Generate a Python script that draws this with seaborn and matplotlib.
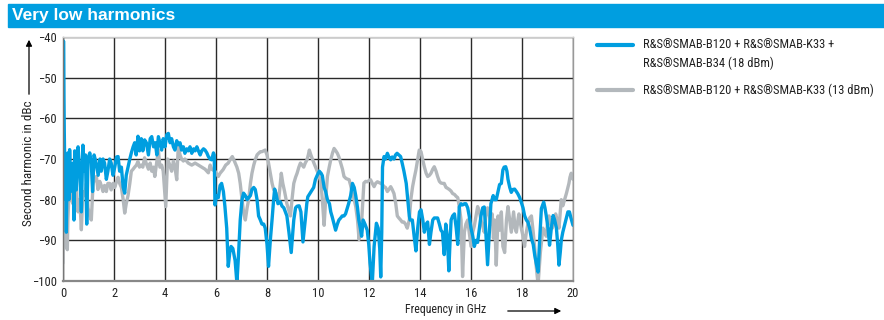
import matplotlib
matplotlib.use("Agg")
import numpy as np
import pandas as pd
import seaborn as sns
import matplotlib.pyplot as plt
from matplotlib.lines import Line2D
from matplotlib.patches import Rectangle

# ---------------- data ----------------
title = "Very low harmonics"
x_label = "Frequency in GHz"
y_label = "Second harmonic in dBc"
label_blue_1 = "R&S®SMAB-B120 + R&S®SMAB-K33 +"
label_blue_2 = "R&S®SMAB-B34 (18 dBm)"
label_gray = "R&S®SMAB-B120 + R&S®SMAB-K33 (13 dBm)"
x_ticks = [0, 2, 4, 6, 8, 10, 12, 14, 16, 18, 20]
y_ticks = [-100, -90, -80, -70, -60, -50, -40]

blue_f = [0.00, 0.02, 0.05, 0.08, 0.10, 0.13, 0.16, 0.19, 0.23, 0.26, 0.30, 0.33, 0.37, 0.40, 0.43,
          0.46, 0.52, 0.56, 0.59, 0.65, 0.72, 0.78, 0.83, 0.88, 0.93, 0.98, 1.05, 1.11, 1.16, 1.22,
          1.30, 1.38, 1.45, 1.50, 1.57, 1.63, 1.70, 1.76, 1.83, 1.89, 1.96, 2.03, 2.10, 2.16, 2.22,
          2.29, 2.36, 2.42, 2.48, 2.55, 2.62, 2.68, 2.75, 2.81, 2.87, 2.94, 3.00, 3.07, 3.13, 3.20,
          3.27, 3.35, 3.42, 3.48, 3.55, 3.62, 3.68, 3.74, 3.80, 3.87, 3.93, 4.00, 4.07, 4.13, 4.20,
          4.26, 4.33, 4.39, 4.46, 4.52, 4.59, 4.65, 4.72, 4.78, 4.85, 4.91, 4.98, 5.05, 5.12, 5.18,
          5.25, 5.31, 5.38, 5.44, 5.51, 5.57, 5.64, 5.70, 5.77, 5.83, 5.90, 5.93, 5.96, 6.02, 6.09,
          6.16, 6.22, 6.29, 6.35, 6.42, 6.48, 6.54, 6.59, 6.66, 6.75, 6.82, 6.88, 6.95, 7.02, 7.08,
          7.15, 7.22, 7.28, 7.35, 7.41, 7.48, 7.54, 7.61, 7.67, 7.74, 7.80, 7.87, 7.93, 8.00, 8.06,
          8.13, 8.20, 8.26, 8.30, 8.37, 8.43, 8.52, 8.59, 8.66, 8.72, 8.78, 8.86, 8.95, 9.05, 9.12,
          9.18, 9.26, 9.33, 9.41, 9.50, 9.56, 9.60, 9.68, 9.76, 9.83, 9.90, 9.97, 10.05, 10.12, 10.17,
          10.24, 10.30, 10.37, 10.45, 10.50, 10.56, 10.63, 10.69, 10.76, 10.82, 10.89, 10.95, 11.02, 11.08, 11.15,
          11.20, 11.28, 11.35, 11.42, 11.48, 11.55, 11.60, 11.66, 11.71, 11.77, 11.84, 11.93, 11.99, 12.04, 12.13,
          12.20, 12.29, 12.36, 12.42, 12.46, 12.50, 12.53, 12.59, 12.65, 12.72, 12.78, 12.85, 12.91, 12.98, 13.04,
          13.10, 13.17, 13.24, 13.30, 13.37, 13.46, 13.52, 13.58, 13.61, 13.70, 13.77, 13.84, 13.91, 13.98, 14.04,
          14.11, 14.17, 14.24, 14.30, 14.37, 14.43, 14.50, 14.56, 14.63, 14.69, 14.76, 14.82, 14.88, 14.95, 15.01,
          15.07, 15.13, 15.18, 15.22, 15.28, 15.35, 15.42, 15.48, 15.54, 15.61, 15.67, 15.74, 15.80, 15.87, 15.93,
          16.00, 16.07, 16.13, 16.20, 16.26, 16.33, 16.39, 16.46, 16.52, 16.58, 16.65, 16.72, 16.78, 16.87, 16.93,
          16.99, 17.06, 17.12, 17.19, 17.25, 17.30, 17.36, 17.41, 17.45, 17.52, 17.58, 17.64, 17.71, 17.78, 17.84,
          17.91, 17.97, 18.04, 18.10, 18.17, 18.23, 18.30, 18.37, 18.44, 18.50, 18.57, 18.63, 18.70, 18.76, 18.85,
          18.90, 18.95, 19.02, 19.08, 19.15, 19.22, 19.28, 19.35, 19.40, 19.45, 19.50, 19.54, 19.60, 19.67, 19.74,
          19.80, 19.86, 19.92, 20.00]
blue_v = [-80, -41, -63, -78, -70, -88, -72, -68.5, -80, -67.7, -76.8, -72, -78, -71, -85,
          -68, -77.6, -70, -67, -72, -83, -66.6, -73, -69, -86, -70, -68.5, -71, -78, -69,
          -71, -74, -70, -73, -70, -71, -75, -73, -70, -71, -74, -72, -69.5, -69.4, -73,
          -72, -77, -78.4, -74, -72, -70, -68.5, -67, -66, -69, -64.4, -68, -65, -68, -65.3,
          -66, -69, -65, -64.5, -67, -66, -69, -64.5, -66, -67.8, -65, -67, -64, -63.7, -66,
          -65, -67, -67.8, -65.5, -66.5, -66, -67.8, -67, -68.6, -67.5, -68, -67, -68.6, -67.5, -68,
          -67, -68, -69, -68, -67.5, -67.8, -68.5, -69.4, -70, -70.2, -68.5, -69, -81.3, -79, -79.5,
          -76.5, -76, -78, -81.7, -87, -96.4, -93, -91.5, -92, -95, -100.5, -94, -85, -80, -78.4,
          -79, -80, -79.5, -79, -77.5, -77, -77.5, -80, -84, -85, -86, -86, -87, -91, -96.4,
          -90, -84.8, -80, -77.4, -79, -81, -80.5, -81.6, -82, -83, -84, -88, -93, -85, -82,
          -81.6, -81.5, -83, -90.4, -85, -81, -79.3, -78.5, -77.7, -77, -75, -74, -73, -73.5, -74.1,
          -77, -78, -80, -81, -83, -84.3, -86, -87.5, -86, -85, -84.5, -84, -84, -83.5, -82,
          -81, -79, -76, -77, -79, -82, -85, -87, -89, -85, -86, -87.5, -91, -95.6, -100.5,
          -91.5, -85.8, -87, -92, -99, -88, -72, -69.4, -70, -68.6, -69.5, -70.2, -69.5, -70, -69,
          -68.6, -69, -69.4, -71, -73, -76, -80, -84, -85, -85, -89, -92.6, -87, -83, -82.5,
          -85, -88, -86, -85.5, -91, -88, -85, -84.5, -84.5, -84.5, -86, -87.5, -88, -93.5, -86,
          -89, -97.5, -90, -85, -84, -83.5, -87, -91, -81.8, -81, -81.3, -81, -81, -82, -84,
          -87, -89, -91.5, -90, -90.5, -87, -84, -82, -81.8, -88, -96, -88, -81, -79, -80,
          -80, -78, -76.3, -76, -72.7, -72, -71.9, -73, -75, -77, -78.2, -77.5, -77.4, -78, -78.6,
          -79.5, -80.6, -82, -83.9, -85, -85.5, -87, -89.6, -91, -93.7, -96, -97.8, -89, -82.2, -80.6,
          -82, -83.9, -87, -91.2, -87, -83.9, -85, -87, -91, -96.1, -93, -90, -88, -86.3, -84.5,
          -83, -83, -84.5, -86.3]

gray_f = [0.00, 0.02, 0.05, 0.08, 0.13, 0.17, 0.19, 0.23, 0.26, 0.33, 0.39, 0.45, 0.52, 0.59, 0.66,
          0.72, 0.78, 0.85, 0.92, 0.98, 1.05, 1.11, 1.18, 1.24, 1.31, 1.37, 1.44, 1.50, 1.57, 1.63,
          1.70, 1.76, 1.83, 1.89, 1.96, 2.03, 2.10, 2.16, 2.22, 2.29, 2.36, 2.42, 2.48, 2.55, 2.62,
          2.68, 2.75, 2.81, 2.88, 2.94, 3.00, 3.07, 3.13, 3.20, 3.26, 3.35, 3.42, 3.48, 3.55, 3.60,
          3.67, 3.74, 3.80, 3.87, 3.93, 4.03, 4.10, 4.16, 4.26, 4.33, 4.39, 4.46, 4.52, 4.59, 4.65,
          4.72, 4.78, 4.91, 5.05, 5.18, 5.31, 5.44, 5.57, 5.70, 5.77, 5.83, 5.96, 6.09, 6.16, 6.28,
          6.38, 6.48, 6.57, 6.64, 6.72, 6.82, 6.89, 6.95, 7.02, 7.08, 7.15, 7.22, 7.28, 7.35, 7.41,
          7.48, 7.54, 7.61, 7.67, 7.74, 7.80, 7.87, 7.93, 8.00, 8.06, 8.13, 8.20, 8.26, 8.33, 8.39,
          8.46, 8.52, 8.56, 8.62, 8.69, 8.78, 8.85, 8.92, 8.98, 9.05, 9.12, 9.18, 9.25, 9.31, 9.38,
          9.44, 9.50, 9.57, 9.62, 9.66, 9.72, 9.78, 9.84, 9.90, 9.97, 10.04, 10.11, 10.17, 10.24, 10.30,
          10.37, 10.44, 10.50, 10.57, 10.63, 10.70, 10.76, 10.82, 10.89, 10.96, 11.02, 11.10, 11.22, 11.28, 11.35,
          11.42, 11.48, 11.55, 11.61, 11.67, 11.71, 11.76, 11.80, 11.87, 11.93, 12.00, 12.06, 12.13, 12.20, 12.26,
          12.33, 12.40, 12.46, 12.52, 12.59, 12.65, 12.72, 12.78, 12.85, 12.91, 12.98, 13.05, 13.11, 13.17, 13.24,
          13.30, 13.37, 13.43, 13.50, 13.58, 13.64, 13.71, 13.78, 13.84, 13.91, 13.97, 14.04, 14.10, 14.17, 14.24,
          14.30, 14.37, 14.43, 14.50, 14.56, 14.63, 14.69, 14.76, 14.82, 14.89, 14.95, 15.02, 15.08, 15.15, 15.22,
          15.28, 15.35, 15.42, 15.48, 15.54, 15.61, 15.67, 15.74, 15.80, 15.87, 15.93, 16.00, 16.07, 16.13, 16.20,
          16.26, 16.33, 16.39, 16.46, 16.52, 16.58, 16.65, 16.72, 16.78, 16.83, 16.88, 16.93, 16.99, 17.06, 17.12,
          17.19, 17.25, 17.32, 17.39, 17.45, 17.52, 17.58, 17.67, 17.73, 17.78, 17.84, 17.88, 17.97, 18.04, 18.10,
          18.17, 18.23, 18.30, 18.37, 18.44, 18.50, 18.54, 18.63, 18.72, 18.82, 18.88, 18.95, 19.00, 19.06, 19.12,
          19.19, 19.26, 19.32, 19.38, 19.45, 19.50, 19.54, 19.60, 19.67, 19.74, 19.80, 19.84, 19.88, 19.93, 20.00]
gray_v = [-95.6, -78, -87, -82, -91.5, -92.3, -85, -79, -76, -80, -81, -78, -77, -83, -80,
          -87.4, -78, -79, -76, -82, -84, -85, -76, -75, -74.3, -77.5, -75.5, -76.5, -78, -76.5,
          -78, -76, -76, -77.6, -76, -77, -75.5, -74.5, -76, -77, -80, -83.3, -81, -79, -76,
          -73, -72.5, -72, -71.5, -70.6, -72, -71.5, -72, -69.7, -71, -72.5, -71, -73, -72, -74.3,
          -71, -67.8, -72, -71.5, -73, -81.7, -70, -71, -73, -70.5, -72, -75.1, -67, -69, -70,
          -70.5, -70, -71, -71.5, -71, -71.5, -72, -72.5, -73.4, -71.5, -72.5, -73, -74.3, -73.5, -72.6,
          -71.5, -71, -70, -69.4, -70.5, -72, -73.5, -76, -80, -83, -85, -82, -80, -76, -73.5,
          -71.5, -70.2, -69, -68.6, -68.2, -68.2, -68, -67.8, -69, -71, -73.5, -76, -77.5, -78, -79,
          -80, -76, -73.5, -76, -78, -81, -82.5, -84, -80, -76, -74.5, -73.5, -72, -71, -71.5,
          -72, -71, -70.2, -69, -67.8, -69, -70, -71, -71.9, -73, -74.3, -75.5, -80, -86.3, -80,
          -74.3, -72, -70.2, -68.5, -67.4, -68, -68.6, -69.5, -71, -72.5, -74.3, -74.8, -75.1, -76.5, -78.5,
          -80, -81.7, -85, -89.8, -87, -85.5, -80, -75.9, -75.5, -75.6, -75.3, -75.1, -76, -76.8, -76,
          -75.6, -75.8, -76, -76.2, -76.8, -77, -78, -77.5, -76.8, -77.5, -78.5, -81, -84, -84.5, -85,
          -85.5, -85.5, -86, -87, -85, -80, -76.8, -74.5, -72.7, -70, -67.8, -68.2, -70, -71.9, -73.5,
          -74.3, -74, -73.5, -72.5, -71.9, -73, -74.3, -75.5, -75.9, -76, -76, -77, -77.2, -77.5, -77.9,
          -78.5, -78.7, -79.2, -79.5, -81.7, -85, -98.9, -88, -86, -85, -88, -91.5, -88, -86.5, -84,
          -81.7, -83, -85, -86.5, -88, -84, -82, -84, -86, -83.5, -89.5, -85, -96.1, -84, -87.5,
          -83, -91.5, -93, -85, -81.7, -85, -88, -83, -87, -88, -85, -83.5, -87, -89, -91.5,
          -88, -86, -84.5, -84, -88, -92, -95.3, -100.9, -93, -87, -88, -89, -86, -84, -86,
          -87, -85, -83.5, -85, -87, -83, -80, -81.5, -80, -78.5, -77, -76, -74.5, -73.5, -75]

BLUE = "#009ee0"
GRAY = "#b3b8bc"
TEXT = "#222222"

# ---------------- style ----------------
sns.set_theme(style="white")
plt.rcParams["font.family"] = ["Liberation Sans Narrow", "Roboto Condensed", "Liberation Sans", "DejaVu Sans"]
plt.rcParams["axes.unicode_minus"] = True

fig = plt.figure(figsize=(8.84, 3.2), dpi=100)
ax = fig.add_axes([63 / 884, 39 / 320, 510 / 884, 244 / 320])

df = pd.concat([
    pd.DataFrame({"f": gray_f, "v": gray_v, "series": label_gray}),
    pd.DataFrame({"f": blue_f, "v": blue_v, "series": label_blue_1}),
])
sns.lineplot(data=df, x="f", y="v", hue="series", hue_order=[label_gray, label_blue_1],
             palette={label_gray: GRAY, label_blue_1: BLUE}, estimator=None,
             linewidth=2.4, legend=False, ax=ax)

ax.set_xlim(0, 20)
ax.set_ylim(-100, -40)
ax.set_xticks(x_ticks)
ax.set_yticks(y_ticks)
ax.set_xlabel("")
ax.set_ylabel("")
ax.grid(True, color="#2a2a2a", linewidth=1.0)
ax.set_axisbelow(True)
for side, sp in ax.spines.items():
    sp.set_visible(True)
    sp.set_color("#999999")
    sp.set_linewidth(1.0)
ax.spines["bottom"].set_linewidth(1.6)
ax.spines["bottom"].set_color("#888888")
ax.spines["left"].set_color("#777777")
ax.spines["top"].set_color("#cccccc")
ax.tick_params(axis="both", which="both", direction="out", length=3, width=0.9,
               color="#444444", labelsize=9, labelcolor=TEXT, pad=1.5)

# title bar
fig.patches.append(Rectangle((8 / 884, 293 / 320), 876 / 884, 23 / 320,
                             transform=fig.transFigure, color=BLUE, zorder=0))
fig.text(12 / 884, 304.5 / 320, title, color="white", fontsize=12.5, fontweight="bold",
         family=["Liberation Sans", "DejaVu Sans"], ha="left", va="center")

# axis labels with arrows
fig.text(29 / 884, (320 - 163) / 320, y_label, rotation=90, ha="center", va="center",
         fontsize=9.5, color=TEXT)
fig.add_artist(matplotlib.patches.FancyArrowPatch((29 / 884, (320 - 97) / 320), (29 / 884, (320 - 37) / 320),
               transform=fig.transFigure, arrowstyle="-|>", mutation_scale=9, color="black", lw=0.9))
fig.text(446 / 884, 10.5 / 320, x_label, ha="center", va="center", fontsize=8.5, color=TEXT)
fig.add_artist(matplotlib.patches.FancyArrowPatch((505 / 884, 9 / 320), (564 / 884, 9 / 320),
               transform=fig.transFigure, arrowstyle="-|>", mutation_scale=9, color="black", lw=0.9))

# legend
fig.add_artist(Line2D([597 / 884, 633 / 884], [(320 - 45) / 320] * 2, transform=fig.transFigure,
                      color=BLUE, lw=3))
fig.text(643 / 884, (320 - 45) / 320, label_blue_1, ha="left", va="center", fontsize=9, color=TEXT)
fig.text(643 / 884, (320 - 63) / 320, label_blue_2, ha="left", va="center", fontsize=9, color=TEXT)
fig.add_artist(Line2D([597 / 884, 633 / 884], [(320 - 90) / 320] * 2, transform=fig.transFigure,
                      color=GRAY, lw=3))
fig.text(643 / 884, (320 - 90) / 320, label_gray, ha="left", va="center", fontsize=9, color=TEXT)

fig.savefig("out.png", dpi=100)
